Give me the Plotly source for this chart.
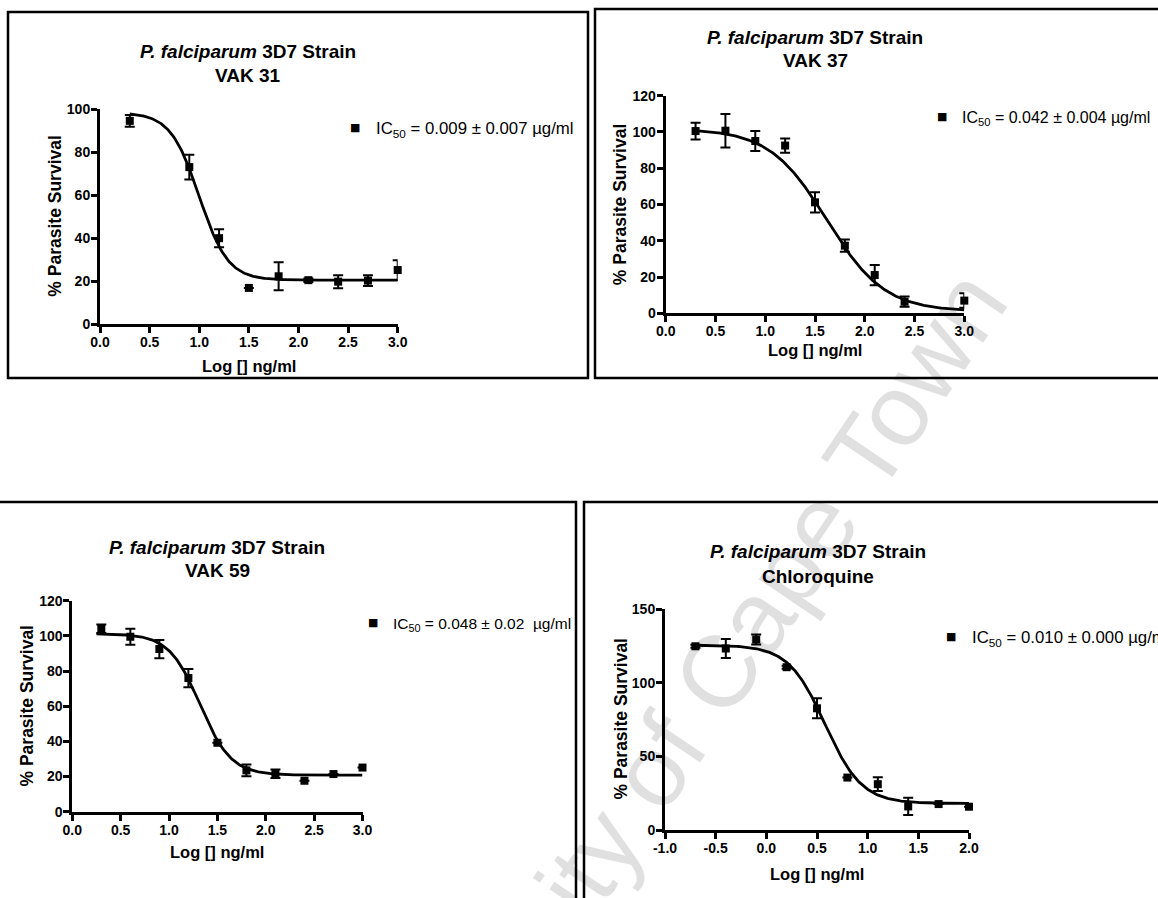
import numpy as np
import plotly.graph_objects as go

W, H = 1158, 898
FONT = "Arial, Liberation Sans, sans-serif"

# ---- VAK 31 ----
vak31_log_conc = [0.3, 0.9, 1.2, 1.5, 1.8, 2.1, 2.4, 2.7, 3.0]
vak31_survival = [94.5, 73.0, 40.0, 16.9, 22.3, 20.5, 19.8, 20.3, 25.2]
vak31_sem = [2.7, 5.7, 4.2, 0.0, 6.5, 0.8, 3.0, 2.5, 4.6]
vak31_fit = dict(top=98.3, bottom=20.5, log_ic50=1.0, hill=-3.0)
vak31_fit_span = [0.3, 3.0]

# ---- VAK 37 ----
vak37_log_conc = [0.3, 0.6, 0.9, 1.2, 1.5, 1.8, 2.1, 2.4, 3.0]
vak37_survival = [100.5, 100.7, 95.0, 92.5, 61.2, 37.3, 21.1, 6.4, 7.0]
vak37_sem = [4.6, 9.2, 5.5, 3.9, 5.6, 3.4, 5.6, 2.8, 4.0]
vak37_fit = dict(top=101.8, bottom=1.0, log_ic50=1.62, hill=-1.5)
vak37_fit_span = [0.3, 3.0]

# ---- VAK 59 ----
vak59_log_conc = [0.3, 0.6, 0.9, 1.2, 1.5, 1.8, 2.1, 2.4, 2.7, 3.0]
vak59_survival = [104.0, 99.5, 92.5, 76.0, 39.2, 23.5, 21.6, 17.6, 21.4, 25.1]
vak59_sem = [2.4, 4.6, 5.2, 5.2, 0.0, 3.3, 2.4, 0.0, 0.0, 0.0]
vak59_fit = dict(top=101.2, bottom=20.8, log_ic50=1.32, hill=-2.7)
vak59_fit_span = [0.25, 3.0]

# ---- Chloroquine ----
cq_log_conc = [-0.7, -0.4, -0.1, 0.2, 0.5, 0.8, 1.1, 1.4, 1.7, 2.0]
cq_survival = [124.7, 123.2, 129.3, 110.5, 82.6, 35.6, 31.1, 16.0, 17.6, 15.8]
cq_sem = [1.0, 6.4, 3.4, 1.0, 6.8, 0.0, 4.7, 5.9, 0.0, 0.0]
cq_fit = dict(top=125.5, bottom=18.0, log_ic50=0.58, hill=-2.4)
cq_fit_span = [-0.7, 2.0]

compound_names = ["VAK 31", "VAK 37", "VAK 59", "Chloroquine"]
ic50_labels = [
    "IC<sub>50</sub> = 0.009 ± 0.007 µg/ml",
    "IC<sub>50</sub> = 0.042 ± 0.004 µg/ml",
    "IC<sub>50</sub> = 0.048 ± 0.02  µg/ml",
    "IC<sub>50</sub> = 0.010 ± 0.000 µg/ml",
]
key_font_sizes = [16.8, 16.0, 15.5, 16.8]
y_ranges = [[0, 100], [0, 120], [0, 120], [0, 150]]
y_steps = [20, 20, 20, 50]
x_ranges = [[0, 3], [0, 3], [0, 3], [-1, 2]]
log_tick_vals = [0.0, 0.5, 1.0, 1.5, 2.0, 2.5, 3.0]
log_tick_text = ["0.0", "0.5", "1.0", "1.5", "2.0", "2.5", "3.0"]
cq_tick_vals = [-1.0, -0.5, 0.0, 0.5, 1.0, 1.5, 2.0]
cq_tick_text = ["-1.0", "-0.5", "0.0", "0.5", "1.0", "1.5", "2.0"]
x_ticks = [(log_tick_vals, log_tick_text)] * 3 + [(cq_tick_vals, cq_tick_text)]


def four_pl(x, top, bottom, log_ic50, hill):
    """Sigmoidal dose-response (variable slope)."""
    return bottom + (top - bottom) / (1 + 10 ** ((log_ic50 - x) * hill))


def px(v):
    return v / W


def py(v):
    return 1 - v / H


# panel geometry in pixels: axis left/right, axis top/bottom, key position
panels = [
    dict(ax=(100, 397.7), ay=(109, 324.3), title_x=248, title_y=(52, 75.5),
         xlab_y=366, key=(355, 127, 374), box=(8, 12, 588, 378)),
    dict(ax=(665.7, 964.3), ay=(95.7, 313.3), title_x=815, title_y=(37, 60.6),
         xlab_y=350, key=(942, 116, 960), box=(595, 9, 1175, 378)),
    dict(ax=(72.3, 362.5), ay=(600.7, 811.7), title_x=217, title_y=(547, 570),
         xlab_y=852, key=(373, 622, 391), box=(-10, 502, 576, 915)),
    dict(ax=(665, 969), ay=(609, 830), title_x=818, title_y=(551, 576),
         xlab_y=874, key=(951, 636, 970), box=(584, 502, 1175, 915)),
]

datasets = [
    (vak31_log_conc, vak31_survival, vak31_sem, vak31_fit, vak31_fit_span),
    (vak37_log_conc, vak37_survival, vak37_sem, vak37_fit, vak37_fit_span),
    (vak59_log_conc, vak59_survival, vak59_sem, vak59_fit, vak59_fit_span),
    (cq_log_conc, cq_survival, cq_sem, cq_fit, cq_fit_span),
]

fig = go.Figure()
annotations = []
shapes = []
layout_axes = {}

for i, (geo, (xs, ys, errs, fit, span)) in enumerate(zip(panels, datasets)):
    n = i + 1
    xa = "x" if n == 1 else f"x{n}"
    ya = "y" if n == 1 else f"y{n}"

    # fitted curve
    xc = np.linspace(span[0], span[1], 300)
    fig.add_trace(go.Scatter(
        x=xc, y=four_pl(xc, **fit), mode="lines",
        line=dict(color="black", width=2.8), xaxis=xa, yaxis=ya,
        showlegend=False, hoverinfo="skip", cliponaxis=False,
    ))
    # mean +/- SEM
    fig.add_trace(go.Scatter(
        x=xs, y=ys, mode="markers", name=compound_names[i],
        marker=dict(symbol="square", size=8, color="black"),
        error_y=dict(type="data", array=errs, visible=True,
                     color="black", thickness=2, width=5),
        xaxis=xa, yaxis=ya, showlegend=False, cliponaxis=False,
    ))

    axis_common = dict(
        showline=True, linecolor="black", linewidth=3, mirror=False,
        ticks="outside", ticklen=6, tickwidth=2.5, tickcolor="black",
        showgrid=False, zeroline=False, fixedrange=True,
        tickfont=dict(family=FONT, size=14, color="black", weight="bold"),
    )
    x0, x1 = geo["ax"]
    yt, yb = geo["ay"]
    tv, tt = x_ticks[i]
    layout_axes["xaxis" if n == 1 else f"xaxis{n}"] = dict(
        axis_common, domain=[px(x0), px(x1)], range=x_ranges[i],
        anchor=ya, tickmode="array", tickvals=tv, ticktext=tt,
        ticklabelstandoff=-3,
    )
    layout_axes["yaxis" if n == 1 else f"yaxis{n}"] = dict(
        axis_common, domain=[py(yb), py(yt)], range=y_ranges[i],
        anchor=xa, dtick=y_steps[i], tick0=0, ticklabelstandoff=-2,
    )

    # key: filled square + IC50 text
    kx, ky, tx = geo["key"]
    annotations.append(dict(
        text="■", x=px(kx), y=py(ky), xref="paper", yref="paper",
        xanchor="center", yanchor="middle", showarrow=False,
        font=dict(family="DejaVu Sans", size=11, color="black"),
    ))
    annotations.append(dict(
        text=ic50_labels[i], x=px(tx), y=py(ky + 2), xref="paper", yref="paper",
        xanchor="left", yanchor="middle", showarrow=False,
        font=dict(family=FONT, size=key_font_sizes[i], color="black"),
    ))

    # two-line panel heading
    annotations.append(dict(
        text="<b><i>P. falciparum</i> 3D7 Strain</b>", x=px(geo["title_x"]),
        y=py(geo["title_y"][0]), xref="paper", yref="paper",
        xanchor="center", yanchor="middle", showarrow=False,
        font=dict(family=FONT, size=19, color="black"),
    ))
    annotations.append(dict(
        text=f"<b>{compound_names[i]}</b>", x=px(geo["title_x"]),
        y=py(geo["title_y"][1]), xref="paper", yref="paper",
        xanchor="center", yanchor="middle", showarrow=False,
        font=dict(family=FONT, size=19, color="black"),
    ))
    # axis titles
    annotations.append(dict(
        text="<b>% Parasite Survival</b>", x=px(x0 - 45), y=py((yt + yb) / 2),
        xref="paper", yref="paper", xanchor="center", yanchor="middle",
        textangle=-90, showarrow=False,
        font=dict(family=FONT, size=17.5, color="black"),
    ))
    annotations.append(dict(
        text="<b>Log [] ng/ml</b>", x=px((x0 + x1) / 2), y=py(geo["xlab_y"]),
        xref="paper", yref="paper", xanchor="center", yanchor="middle",
        showarrow=False, font=dict(family=FONT, size=16.5, color="black"),
    ))

    bx0, by0, bx1, by1 = geo["box"]
    shapes.append(dict(
        type="rect", xref="paper", yref="paper",
        x0=px(bx0), x1=px(bx1), y0=py(by1), y1=py(by0),
        line=dict(color="black", width=2.5), fillcolor="rgba(0,0,0,0)",
        layer="below",
    ))

# institutional watermark
annotations.append(dict(
    text="University of Cape Town", x=px(675), y=py(737),
    xref="paper", yref="paper", xanchor="center", yanchor="middle",
    textangle=-56, showarrow=False,
    font=dict(family="Liberation Sans, Arial, sans-serif", size=102,
              color="rgba(0,0,0,0.12)"),
))

fig.update_layout(
    width=W, height=H,
    margin=dict(l=0, r=0, t=0, b=0, pad=0, autoexpand=False),
    paper_bgcolor="white", plot_bgcolor="rgba(0,0,0,0)",
    showlegend=False,
    annotations=annotations, shapes=shapes, **layout_axes,
)

fig.write_html("out.html")
